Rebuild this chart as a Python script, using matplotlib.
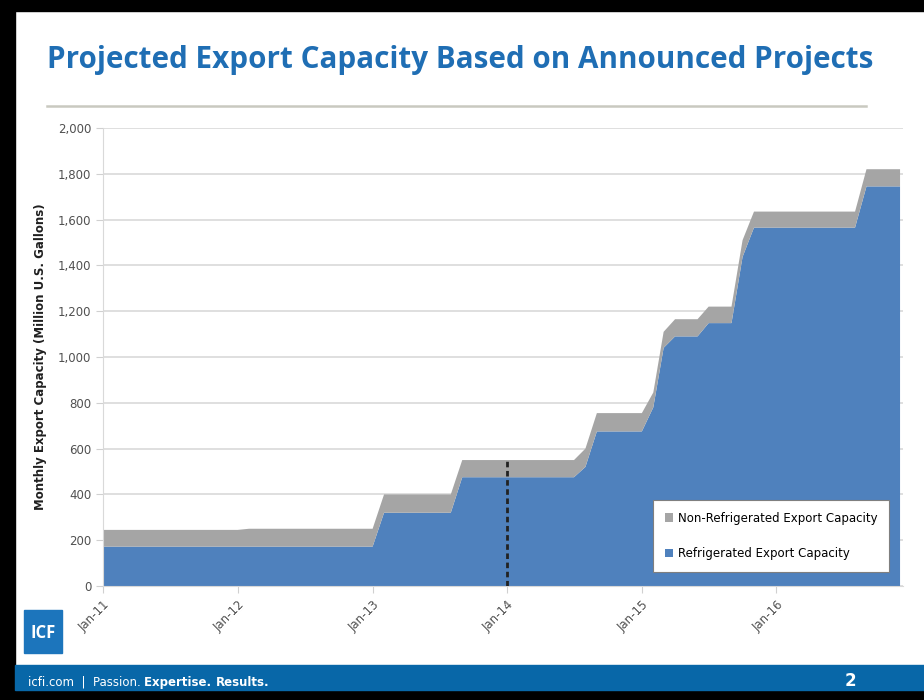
import pandas as pd
import matplotlib.pyplot as plt
import matplotlib.dates as mdates
from matplotlib.patches import Rectangle
from matplotlib.ticker import FuncFormatter

# Monthly capacity, Jan-11 .. Dec-16 (million U.S. gallons)
months = pd.date_range("2011-01-01", periods=72, freq="MS")

refrigerated = [
    172, 172, 172, 172, 172, 172, 172, 172, 172, 172, 172, 172,   # 2011
    172, 172, 172, 172, 172, 172, 172, 172, 172, 172, 172, 172,   # 2012
    172, 320, 320, 320, 320, 320, 320, 320, 475, 475, 475, 475,   # 2013
    475, 475, 475, 475, 475, 475, 475, 520, 675, 675, 675, 675,   # 2014
    675, 780, 1040, 1090, 1090, 1090, 1148, 1148, 1148, 1437, 1565, 1565,  # 2015
    1565, 1565, 1565, 1565, 1565, 1565, 1565, 1565, 1745, 1745, 1745, 1745,  # 2016
]
non_refrigerated = [
    73, 73, 73, 73, 73, 73, 73, 73, 73, 73, 73, 73,
    73, 78, 78, 78, 78, 78, 78, 78, 78, 78, 78, 78,
    78, 80, 80, 80, 80, 80, 80, 80, 75, 75, 75, 75,
    75, 75, 75, 75, 75, 75, 75, 80, 80, 80, 80, 80,
    80, 65, 70, 75, 75, 75, 72, 72, 72, 73, 70, 70,
    70, 70, 70, 70, 70, 70, 70, 70, 75, 75, 75, 75,
]

series_labels = ["Refrigerated Export Capacity", "Non-Refrigerated Export Capacity"]
marker_date = pd.Timestamp("2014-01-01")
marker_top = 560

title = "Projected Export Capacity Based on Announced Projects"
ylabel = "Monthly Export Capacity (Million U.S. Gallons)"
footer_parts = [("icfi.com  |  Passion. ", "normal"), ("Expertise. ", "semibold"), ("Results.", "bold")]

BLUE = "#4F81BD"
GREY = "#A5A5A5"
TITLE_BLUE = "#1F6EB4"
FOOTER_BLUE = "#0867A8"

W, H = 924, 700
fig = plt.figure(figsize=(W / 100, H / 100), dpi=100)
fig.patch.set_facecolor("white")

# slide frame
fig.patches.append(Rectangle((0, 1 - 11 / H), 1, 11 / H, transform=fig.transFigure, color="black", zorder=0))
fig.patches.append(Rectangle((0, 0), 15 / W, 1, transform=fig.transFigure, color="black", zorder=0))
fig.patches.append(Rectangle((0, 0), 1, 10 / H, transform=fig.transFigure, color="black", zorder=0))
fig.patches.append(Rectangle((15 / W, 10 / H), 1, 25 / H, transform=fig.transFigure, color=FOOTER_BLUE, zorder=0))

# title and rule
fig.text(47 / W, 1 - 60 / H, title, fontsize=21.3, fontweight="bold", color=TITLE_BLUE,
         family=["Open Sans", "DejaVu Sans"], va="center", ha="left")
fig.add_artist(plt.Line2D([47 / W, 866 / W], [1 - 106 / H, 1 - 106 / H], color="#C9C9C0", lw=1.8))

ax = fig.add_axes([103 / W, (H - 586) / H, (903 - 103) / W, (586 - 128) / H])
ax.stackplot(months, refrigerated, non_refrigerated, colors=[BLUE, GREY],
             labels=series_labels, linewidth=0, zorder=2)
ax.vlines(marker_date, 0, marker_top, colors="#222222", linestyles=(0, (2, 1.3)), lw=2, zorder=3)

ax.set_xlim(months[0], months[-1] + pd.Timedelta(days=8))
ax.set_ylim(0, 2000)
ax.set_yticks(range(0, 2001, 200))
ax.yaxis.set_major_formatter(FuncFormatter(lambda v, p: f"{int(v):,}"))
ax.grid(axis="y", color="#D9D9D9", lw=1.2, zorder=0)
ax.set_axisbelow(True)

ax.xaxis.set_major_locator(mdates.YearLocator(month=1, day=1))
ax.xaxis.set_major_formatter(mdates.DateFormatter("Jan-%y"))
plt.setp(ax.get_xticklabels(), rotation=45, ha="right", rotation_mode="anchor")

for s in ["top", "right"]:
    ax.spines[s].set_visible(False)
ax.spines["left"].set_color("#D9D9D9")
ax.spines["bottom"].set_color("#D9D9D9")
ax.tick_params(axis="both", colors="#D0D0D0", labelcolor="#505050", labelsize=8.5, length=5)
ax.tick_params(axis="x", pad=4)

ax.set_ylabel(ylabel, fontsize=8.5, fontweight="bold", color="#202020", labelpad=8)

handles, labels = ax.get_legend_handles_labels()
leg = ax.legend(handles[::-1], labels[::-1], loc="lower right", bbox_to_anchor=(0.99, 0.018),
                fontsize=8.5, frameon=True, fancybox=False, framealpha=1, handlelength=0.7,
                handleheight=0.7, labelspacing=1.9, borderpad=1.0, handletextpad=0.4)
leg.get_frame().set_edgecolor("#7F7F7F")
leg.get_frame().set_linewidth(0.8)

# logo
fig.patches.append(Rectangle((24 / W, 1 - 653 / H), 38 / W, 43 / H, transform=fig.transFigure,
                             color="#1C75BC", zorder=1))
fig.text(43 / W, 1 - 633 / H, "ICF", color="white", fontsize=12, fontweight="bold",
         ha="center", va="center", family=["Open Sans", "DejaVu Sans"])

# footer text, pieces placed one after another on a shared baseline
fig.canvas.draw()
renderer = fig.canvas.get_renderer()
x = 28 / W
for txt, weight in footer_parts:
    t = fig.text(x, 1 - 686 / H, txt, color="white", fontsize=8.5, fontweight=weight,
                 va="baseline", ha="left")
    bb = t.get_window_extent(renderer)
    x += bb.width / W
fig.text(850 / W, 1 - 681 / H, "2", color="white", fontsize=12, fontweight="bold",
         ha="center", va="center")

fig.savefig("out.png", dpi=100)
